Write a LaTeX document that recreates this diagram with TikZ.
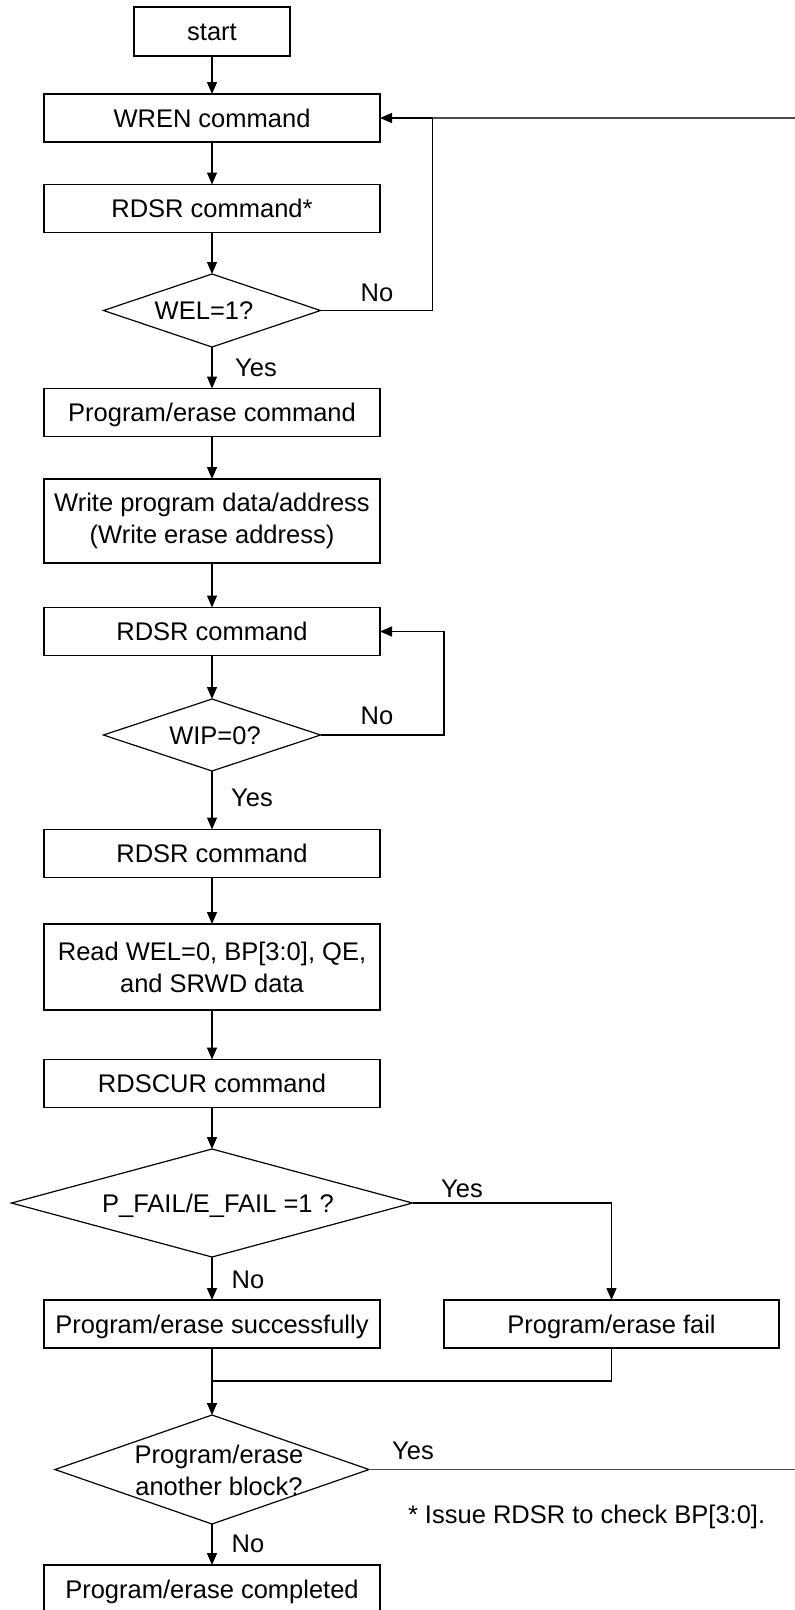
\documentclass[tikz,border=0pt]{standalone}
\usepackage{fontspec}
\setmainfont{Liberation Sans}
\usetikzlibrary{arrows.meta,shapes.geometric}
\begin{document}
\begin{tikzpicture}[x=1pt,y=-1pt,
  every node/.style={inner sep=0pt,outer sep=0pt,font=\fontsize{25.5}{32}\selectfont},
  stepbox/.style={draw=black,line width=1.2pt,minimum width=336pt,minimum height=48pt,
                  text height=18pt,text depth=0pt},
  tallbox/.style={draw=black,line width=1.2pt,minimum width=336pt,minimum height=84pt,align=center},
  decision/.style={draw=black,line width=1.2pt,diamond},
  flow/.style={line width=1.3pt,draw=black},
  arr/.style={flow,-{Triangle[length=12pt,width=10pt]}},
  tag/.style={text height=18pt,text depth=0pt}
]
% canvas
\path[use as bounding box] (0,0) rectangle (795,1610);
\fill[white] (0,0) rectangle (795,1610);
\clip (0,0) rectangle (795,1610);

% process steps
\node[stepbox,minimum width=156pt,minimum height=49pt] (start) at (212,31.5) {start};
\node[stepbox] (wren) at (212,118) {WREN command};
\node[stepbox] (rdsra) at (212,208.5) {RDSR command*};
\node[decision,minimum width=217pt,minimum height=73pt] (wel) at (212,310.5) {};
\node[tag] (weltxt) at (204,310) {WEL=1?};
\node[stepbox] (pecmd) at (212,412.5) {Program/erase command};
\node[tallbox] (write) at (212,521) {Write program data/address\\(Write erase address)};
\node[stepbox] (rdsrb) at (212,631.5) {RDSR command};
\node[decision,minimum width=217pt,minimum height=72pt] (wip) at (212,735) {};
\node[tag] (wiptxt) at (215,735) {WIP=0?};
\node[stepbox] (rdsrc) at (212,853.5) {RDSR command};
\node[tallbox,minimum height=86pt] (read) at (212,967) {Read WEL=0, BP[3:0], QE,\\and SRWD data};
\node[stepbox] (rdscur) at (212,1083.5) {RDSCUR command};
\node[decision,minimum width=401pt,minimum height=108pt] (pfail) at (212,1203) {};
\node[tag] (pfailtxt) at (218,1203) {P\_FAIL/E\_FAIL =1 ?};
\node[stepbox] (succ) at (212,1324) {Program/erase successfully};
\node[stepbox,minimum width=335pt] (fail) at (611.5,1324) {Program/erase fail};
\node[decision,minimum width=314pt,minimum height=109pt] (another) at (212,1469.5) {};
\node[align=center] (anothertxt) at (219,1470) {Program/erase\\another block?};
\node[stepbox] (done) at (212,1589) {Program/erase completed};

% branch labels
\node[tag] (nowel) at (377,292) {No};
\node[tag] (yeswel) at (256,367) {Yes};
\node[tag] (nowip) at (377,715) {No};
\node[tag] (yeswip) at (252,797) {Yes};
\node[tag] (yespf) at (462,1188) {Yes};
\node[tag] (nopf) at (248,1279) {No};
\node[tag] (yesan) at (413,1450) {Yes};
\node[tag] (noan) at (248,1543) {No};
\node[anchor=base west] (note) at (408,1523) {* Issue RDSR to check BP[3:0].};

% main flow
\draw[arr] (start.south) -- (wren.north);
\draw[arr] (wren.south) -- (rdsra.north);
\draw[arr] (rdsra.south) -- (wel.north);
\draw[arr] (wel.south) -- (pecmd.north);
\draw[arr] (pecmd.south) -- (write.north);
\draw[arr] (write.south) -- (rdsrb.north);
\draw[arr] (rdsrb.south) -- (wip.north);
\draw[arr] (wip.south) -- (rdsrc.north);
\draw[arr] (rdsrc.south) -- (read.north);
\draw[arr] (read.south) -- (rdscur.north);
\draw[arr] (rdscur.south) -- (pfail.north);
\draw[arr] (pfail.south) -- (succ.north);
\draw[arr] (succ.south) -- (another.north);
\draw[arr] (another.south) -- (done.north);

% loops and branches
\coordinate (welturn) at (432.5,118);
\draw[arr] (wel.east) -| (welturn) -- (wren.east);
\coordinate (offright) at (815,1469.5);
\draw[flow,draw=black!70] (another.east) -- (offright) |- (welturn);
\coordinate (wipturn) at (444,631.5);
\draw[arr] (wip.east) -| (wipturn) -- (rdsrb.east);
\draw[arr] (pfail.east) -| (fail.north);
\coordinate (merge) at (212,1381);
\draw[flow] (fail.south) |- (merge);
\end{tikzpicture}
\end{document}
